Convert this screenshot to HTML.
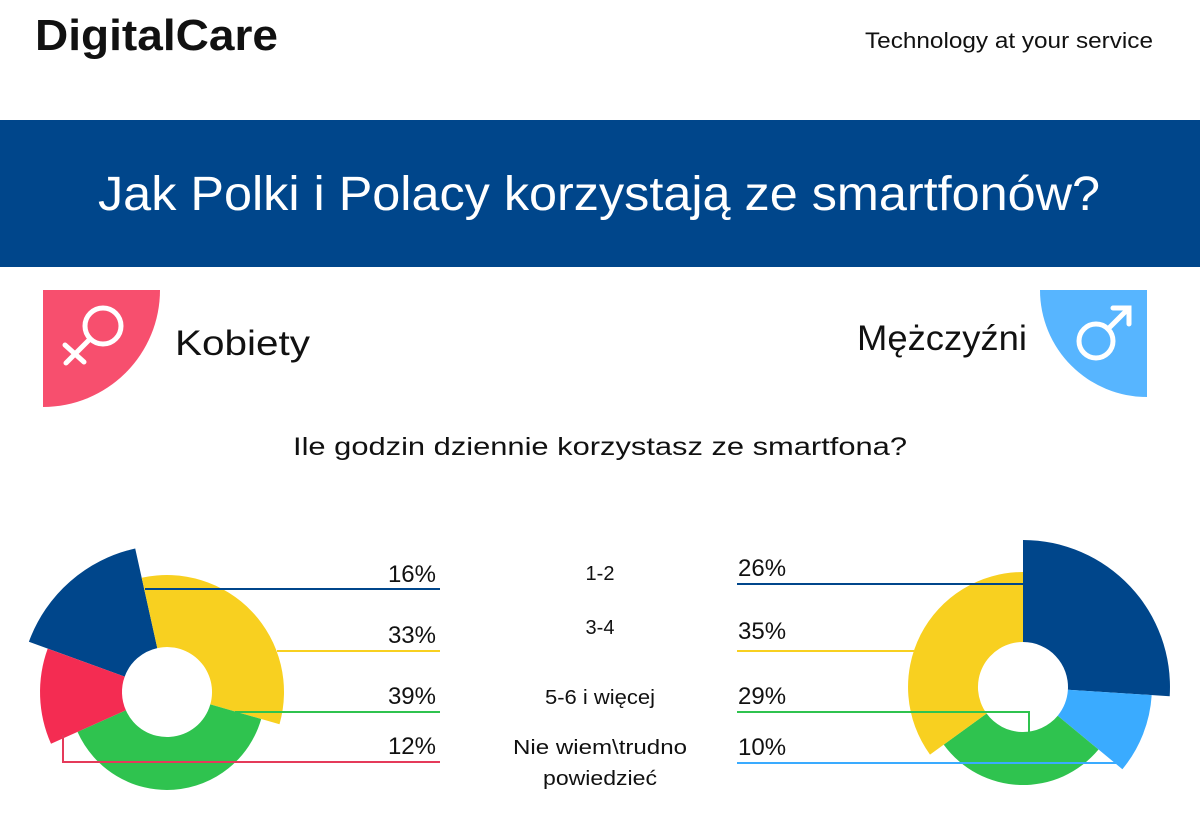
<!DOCTYPE html>
<html><head><meta charset="utf-8"><style>
body{margin:0;width:1200px;height:825px;background:#fff;overflow:hidden;font-family:"Liberation Sans",sans-serif;}
</style></head><body>
<svg id="s" width="1200" height="825" xmlns="http://www.w3.org/2000/svg" font-family="Liberation Sans, DejaVu Sans, sans-serif">
<text x="35" y="50" font-size="44" font-weight="bold" fill="#111" textLength="243" lengthAdjust="spacingAndGlyphs">DigitalCare</text>
<text x="865" y="48" font-size="22" fill="#111" textLength="288" lengthAdjust="spacingAndGlyphs">Technology at your service</text>
<rect x="0" y="120" width="1200" height="147" fill="#00468b"/>
<text x="98" y="210" font-size="48" fill="#fff" textLength="1002" lengthAdjust="spacingAndGlyphs">Jak Polki i Polacy korzystają ze smartfonów?</text>
<path d="M43 290 H160 A117 117 0 0 1 43 407 Z" fill="#f74f6e"/>
<g stroke="#fff" stroke-width="5" fill="none" stroke-linecap="round">
<circle cx="103" cy="326" r="18"/><line x1="90" y1="339" x2="66" y2="363"/><line x1="65" y1="345" x2="84" y2="362"/>
</g>
<text x="175" y="355" font-size="35" fill="#111" textLength="135" lengthAdjust="spacingAndGlyphs">Kobiety</text>
<path d="M1147 290 H1040 A107 107 0 0 0 1147 397 Z" fill="#57b5ff"/>
<g stroke="#fff" stroke-width="5" fill="none" stroke-linecap="round">
<circle cx="1096" cy="341" r="17"/><line x1="1108" y1="329" x2="1129" y2="308"/><polyline points="1113,308 1129,308 1129,324"/>
</g>
<text x="857" y="350" font-size="35" fill="#111" textLength="170" lengthAdjust="spacingAndGlyphs">Mężczyźni</text>
<text x="293" y="455" font-size="25" fill="#111" textLength="614" lengthAdjust="spacingAndGlyphs">Ile godzin dziennie korzystasz ze smartfona?</text>
<g id="charts"></g>
<g stroke-width="2" fill="none">
<line x1="145" y1="589" x2="440" y2="589" stroke="#00468b"/>
<line x1="277" y1="651" x2="440" y2="651" stroke="#f8d020"/>
<line x1="235" y1="712" x2="440" y2="712" stroke="#2fc34f"/>
<polyline points="63,735 63,762 440,762" stroke="#e53a5a"/>
<line x1="737" y1="584" x2="1023" y2="584" stroke="#00468b"/>
<line x1="737" y1="651" x2="914" y2="651" stroke="#f8d020"/>
<polyline points="737,712 1029,712 1029,732" stroke="#2fc34f"/>
<line x1="737" y1="763" x2="1120" y2="763" stroke="#3aabff"/>
</g>
<g font-size="24" fill="#111" text-anchor="end">
<text x="436" y="582">16%</text><text x="436" y="643">33%</text><text x="436" y="704">39%</text><text x="436" y="754">12%</text>
</g>
<g font-size="24" fill="#111">
<text x="738" y="576">26%</text><text x="738" y="639">35%</text><text x="738" y="704">29%</text><text x="738" y="755">10%</text>
</g>
<g font-size="20" fill="#111" text-anchor="middle">
<text x="600" y="580">1-2</text><text x="600" y="634">3-4</text><text x="600" y="704" textLength="110" lengthAdjust="spacingAndGlyphs">5-6 i więcej</text>
<text x="600" y="754" textLength="174" lengthAdjust="spacingAndGlyphs">Nie wiem\trudno</text><text x="600" y="785" textLength="114" lengthAdjust="spacingAndGlyphs">powiedzieć</text>
</g>
</svg>
<script>
function seg(cx,cy,ri,ro,a0,a1,col){
 function p(r,a){a=a*Math.PI/180;return [(cx+r*Math.sin(a)).toFixed(1),(cy-r*Math.cos(a)).toFixed(1)];}
 var l=(a1-a0)>180?1:0,A=p(ro,a0),B=p(ro,a1),C=p(ri,a1),D=p(ri,a0);
 return '<path fill="'+col+'" d="M'+A+' A'+ro+' '+ro+' 0 '+l+' 1 '+B+' L'+C+' A'+ri+' '+ri+' 0 '+l+' 0 '+D+' Z"/>';
}
var h='';
h+=seg(167,692,45,147,290,347.5,'#00468b');
h+=seg(167,692,45,117,347.5,466,'#f8d020');
h+=seg(167,692,45,98,106,246,'#2fc34f');
h+=seg(167,692,45,127,246,290,'#f42c52');
h+=seg(1023,687,45,147,0,93.6,'#00468b');
h+=seg(1023,687,45,129,93.6,129.6,'#3aabff');
h+=seg(1023,687,45,98,129.6,234,'#2fc34f');
h+=seg(1023,687,45,115,234,360,'#f8d020');
document.getElementById('charts').innerHTML=h;
</script>
</body></html>
